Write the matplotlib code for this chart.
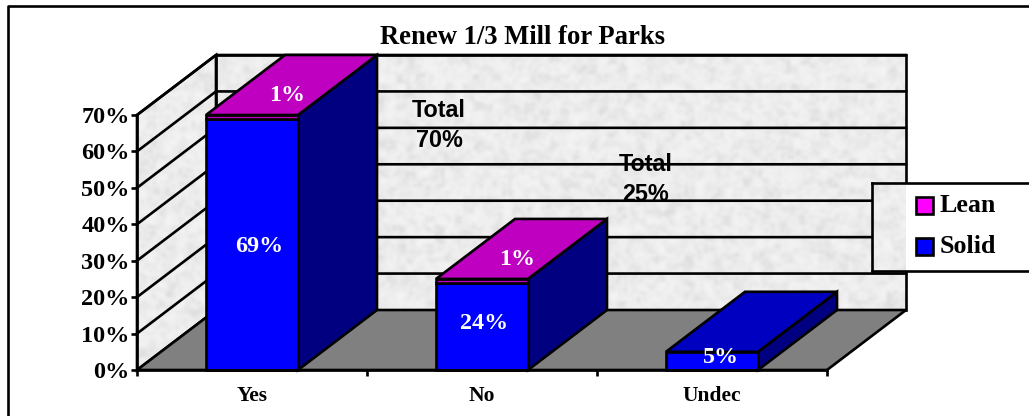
import numpy as np
import matplotlib
matplotlib.use('Agg')
import matplotlib.pyplot as plt
from matplotlib.lines import Line2D
from matplotlib.patches import Polygon, Rectangle

# Данные диаграммы
categories = ['Yes', 'No', 'Undec']
solid = [69, 24, 5]
lean = [1, 1, 0]
solid_labels = ['69%', '24%', '5%']
lean_labels = ['1%', '1%', '']
total_labels = ['Total\n70%', 'Total\n25%']
total_x = [1.313, 2.213]
total_y = [67.2, 52.4]
y_ticks = [0, 10, 20, 30, 40, 50, 60, 70]
y_tick_labels = ['0%', '10%', '20%', '30%', '40%', '50%', '60%', '70%']
legend_names = ['Lean', 'Solid']

# Положение подписей внутри столбцов
solid_label_x = [0.53, 1.51, 2.54]
solid_label_y = [34.0, 12.9, 3.5]

W, H = 1029, 416
serif = 'Liberation Serif'
sans = 'Liberation Sans'
line = 1.9

# Наклонная проекция глубины
depth_x = 79 / 230
depth_y = 60 / (255 / 70)
bar_width = 0.4


def proj(x, v, d=0.0):
    return x + d * depth_x, v + d * depth_y


def face(points, color, z):
    pts = [proj(*p) for p in points]
    patch = Polygon(pts, closed=True, facecolor=color, edgecolor='black',
                    linewidth=line, joinstyle='miter', clip_on=False, zorder=z)
    ax.add_patch(patch)
    return patch


def hash_noise(nx, ny, seed):
    gx, gy = np.meshgrid(np.arange(nx), np.arange(ny))
    n = np.sin(gx * 12.9898 + gy * 78.233 + seed) * 43758.5453
    return n - np.floor(n)


def texture(nx, ny, seed):
    # пятнистый серый фон: мелкий и крупный шум
    fine = hash_noise(nx, ny, seed)
    coarse = hash_noise(nx // 3 + 1, ny // 3 + 1, seed + 2.0)
    coarse = np.kron(coarse, np.ones((3, 3)))[:ny, :nx]
    return 0.955 - 0.11 * (0.6 * fine + 0.4 * coarse) ** 2.0


fig = plt.figure(figsize=(W / 100, H / 100), dpi=100)
ax = fig.add_axes([137 / W, 1 - 370 / H, 690 / W, 255 / H])
ax.set_facecolor('none')
ax.set_xlim(0, 3)
ax.set_ylim(0, 70)

# Стены с текстурой
side = face([(0, 0, 0), (0, 70, 0), (0, 70, 1), (0, 0, 1)], 'none', 1)
back = face([(0, 0, 1), (0, 70, 1), (3, 70, 1), (3, 0, 1)], 'none', 1)
for clip in (side, back):
    x0, _ = proj(0, 0, 0)
    x1, _ = proj(3, 0, 1)
    top = proj(0, 70, 1)[1]
    im = ax.imshow(texture(240, 100, 1.0), cmap='gray', vmin=0, vmax=1, aspect='auto',
                   extent=(x0, x1, 0, top), interpolation='bicubic', zorder=0.5)
    im.set_clip_box(fig.bbox)
    im.set_clip_path(clip)
ax.set_xlim(0, 3)
ax.set_ylim(0, 70)

# Линии сетки
for v in y_ticks[1:]:
    p0, p1, p2 = proj(0, v, 0), proj(0, v, 1), proj(3, v, 1)
    ax.plot([p0[0], p1[0], p2[0]], [p0[1], p1[1], p2[1]], color='black', lw=line,
            clip_on=False, zorder=2)

# Пол
face([(0, 0, 0), (3, 0, 0), (3, 0, 1), (0, 0, 1)], '#808080', 3)

# Столбцы
for i in range(len(categories)):
    left = i + 0.5 - bar_width / 2
    right = i + 0.5 + bar_width / 2
    total = solid[i] + lean[i]
    face([(right, 0, 0), (right, total, 0), (right, total, 1), (right, 0, 1)], '#000080', 4)
    face([(left, 0, 0), (right, 0, 0), (right, solid[i], 0), (left, solid[i], 0)], '#0000ff', 5)
    if lean[i] > 0:
        face([(left, solid[i], 0), (right, solid[i], 0), (right, total, 0), (left, total, 0)],
             '#c000c0', 5)
    top_color = '#c000c0' if lean[i] > 0 else '#0000c0'
    face([(left, total, 0), (right, total, 0), (right, total, 1), (left, total, 1)], top_color, 5)

    # Подписи значений
    ax.text(solid_label_x[i], solid_label_y[i], solid_labels[i], color='white', ha='center',
            va='center', fontsize=17.3, fontweight='bold', family=serif, zorder=7)
    if lean_labels[i]:
        lx, ly = proj(i + 0.54, total, 0.33)
        ax.text(lx, ly, lean_labels[i], color='white', ha='center', va='center',
                fontsize=17.3, fontweight='bold', family=serif, zorder=7)

# Оси и подписи
for name in ('top', 'right'):
    ax.spines[name].set_visible(False)
for name in ('left', 'bottom'):
    ax.spines[name].set_linewidth(line)
    ax.spines[name].set_zorder(6)
ax.set_yticks(y_ticks)
ax.set_yticklabels(y_tick_labels, fontsize=17.5, fontweight='bold', family=serif)
ax.set_xticks(range(len(categories) + 1))
ax.set_xticklabels([])
ax.set_xticks([i + 0.5 for i in range(len(categories))], minor=True)
ax.set_xticklabels(categories, minor=True, fontsize=15.5, fontweight='bold', family=serif)
ax.tick_params(axis='both', which='major', width=line, length=4, pad=1.2)
ax.tick_params(axis='x', which='minor', length=0, pad=11.5)

# Подписи Total
for tx, ty, label in zip(total_x, total_y, total_labels):
    ax.text(tx, ty, label, ha='center', va='center', fontsize=16.8, fontweight='bold',
            family=sans, linespacing=1.4, zorder=2.5)

# Заголовок и рамка
fig.text(522.5 / W, 1 - 37 / H, 'Renew 1/3 Mill for Parks', ha='center', va='center',
         fontsize=19.2, fontweight='bold', family=serif)
fig.add_artist(Line2D([8 / W, 8 / W, 1], [0, 1 - 6 / H, 1 - 6 / H], color='black', lw=line))

# Легенда
leg = fig.add_axes([872 / W, 1 - 271 / H, 157 / W, 88 / H], zorder=5)
leg.set_xlim(872, 1029)
leg.set_ylim(271, 183)
leg.set_xticks([])
leg.set_yticks([])
leg.spines['right'].set_visible(False)
for s in leg.spines.values():
    s.set_linewidth(line)
leg.imshow(texture(11, 28, 5.0), cmap='gray', vmin=0, vmax=1, aspect='auto',
           extent=(872, 906, 271, 183), interpolation='bicubic', zorder=0.5)
leg.set_xlim(872, 1029)
leg.set_ylim(271, 183)
for name, color, yc in zip(legend_names, ['#ff00ff', '#0000ff'], [205, 246.5]):
    leg.add_patch(Rectangle((916, yc - 8.5), 17, 17, facecolor=color, edgecolor='black',
                            linewidth=line, zorder=3))
    leg.text(939.5, yc, name, va='center', ha='left', fontsize=18.7, fontweight='bold',
             family=serif, zorder=3)

fig.savefig('out.png', dpi=100)
